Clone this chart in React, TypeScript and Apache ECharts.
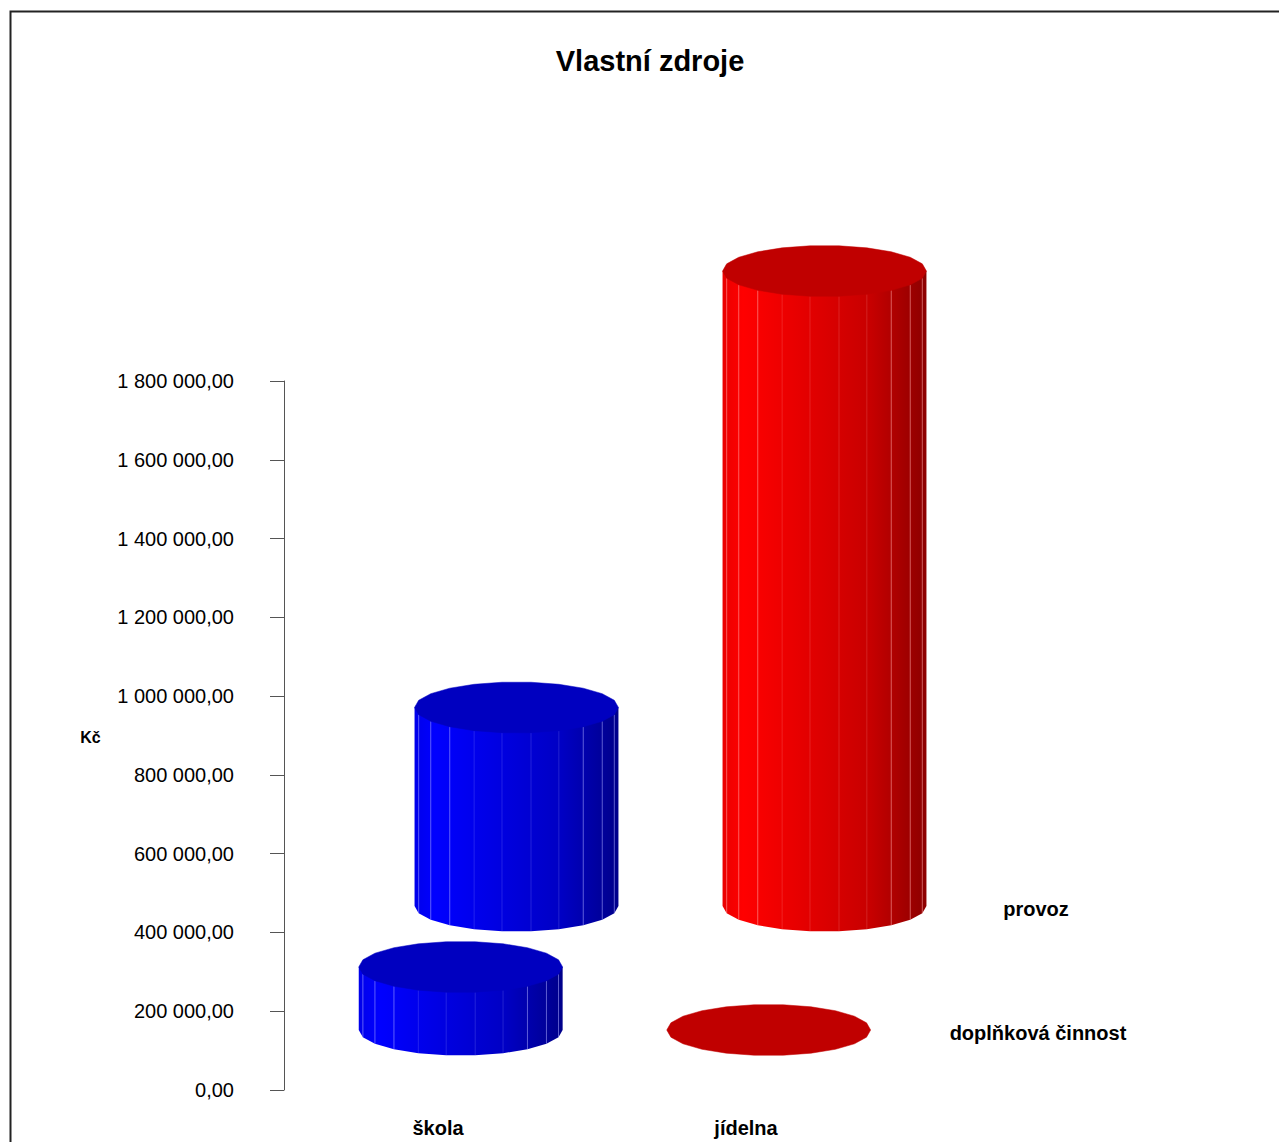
import React, { useEffect, useRef } from "react";
import * as echarts from "echarts";

// Chart data
const categories = ["škola", "jídelna"];
const seriesNames = ["provoz", "doplňková činnost"];
const provozValues = [504000, 1612000];
const doplnkovaValues = [160000, 0];
const yMin = 0;
const yMax = 1800000;
const yInterval = 200000;
const chartTitle = "Vlastní zdroje";
const axisUnit = "Kč";

const FONT = "'Liberation Sans', Arial, Helvetica, sans-serif";
const FACETS = 22;

// Depth rows of the 3D plot: back row (provoz) and front row (doplňková činnost)
const depthRows = [
  { dx: 78.5, dy: -184 },
  { dx: 22.7, dy: -60 },
];

const palettes = [
  {
    top: "#C00000",
    side: ["#EA0000", "#FF0000", "#C80000", "#8C0000"],
    line: "rgba(255,170,170,",
  },
  {
    top: "#0000C0",
    side: ["#0000EA", "#0000FF", "#0000C4", "#00008A"],
    line: "rgba(170,170,255,",
  },
];

const formatKc = (v: number) =>
  Math.round(v)
    .toString()
    .replace(/\B(?=(\d{3})+(?!\d))/g, " ") + ",00";

function makeCylinderRenderer(rowIndex: number, paletteFor: (cat: number) => any) {
  const depth = depthRows[rowIndex];
  return (params: any, api: any) => {
    const cat = api.value(0);
    const val = api.value(1);
    const base = api.coord([cat, 0]);
    const top = api.coord([cat, val]);
    const band = api.size([1, 0])[0];
    const rx = band * 0.331;
    const ry = 25.5;
    const cx = base[0] + depth.dx;
    const floorY = base[1] + depth.dy;
    const topY = top[1] + depth.dy;
    const pal = paletteFor(cat);

    const angles: number[] = [];
    for (let k = 0; k < FACETS; k++) angles.push((k * 2 * Math.PI) / FACETS);
    const topRing = angles.map((a) => [cx + rx * Math.cos(a), topY + ry * Math.sin(a)]);
    const frontAngles = angles.filter((a) => a <= Math.PI + 1e-9);
    const bottomFront = frontAngles.map((a) => [cx + rx * Math.cos(a), floorY + ry * Math.sin(a)]);

    const children: any[] = [];
    if (floorY - topY > 0.5) {
      children.push({
        type: "polygon",
        shape: { points: [[cx + rx, topY], ...bottomFront, [cx - rx, topY]] },
        style: {
          fill: {
            type: "linear",
            x: 0,
            y: 0,
            x2: 1,
            y2: 0,
            colorStops: [
              { offset: 0, color: pal.side[0] },
              { offset: 0.1, color: pal.side[1] },
              { offset: 0.72, color: pal.side[2] },
              { offset: 1, color: pal.side[3] },
            ],
          },
        },
      });
      // facet edges, fainter toward the middle of the visible face
      frontAngles.forEach((a) => {
        if (a < 1e-6 || a > Math.PI - 1e-6) return;
        const c = Math.abs(Math.cos(a));
        const alpha = c > 0.45 ? 0.55 : 0.2;
        const x = cx + rx * Math.cos(a);
        children.push({
          type: "line",
          shape: { x1: x, y1: topY + ry * Math.sin(a), x2: x, y2: floorY + ry * Math.sin(a) },
          style: { stroke: pal.line + alpha + ")", lineWidth: 1 },
        });
      });
    }
    children.push({
      type: "polygon",
      shape: { points: topRing },
      style: { fill: pal.top, stroke: pal.top, lineWidth: 0.5 },
    });
    return { type: "group", children, silent: true };
  };
}

export default function App() {
  const ref = useRef<HTMLDivElement>(null);

  useEffect(() => {
    if (!ref.current) return;
    const chart = echarts.init(ref.current, undefined, { renderer: "svg" });
    // škola is blue, jídelna is red
    const paletteFor = (cat: number) => (cat === 0 ? palettes[1] : palettes[0]);

    chart.setOption({
      animation: false,
      backgroundColor: "#ffffff",
      title: {
        text: chartTitle,
        left: 650,
        top: 46,
        textAlign: "center",
        padding: 0,
        textStyle: { fontFamily: FONT, fontSize: 29, fontWeight: "bold", color: "#000" },
      },
      grid: { left: 284, top: 381, width: 616, bottom: 52, containLabel: false },
      xAxis: {
        type: "category",
        data: categories,
        axisLine: { show: false },
        axisTick: { show: false },
        splitLine: { show: false },
        axisLabel: {
          margin: 28,
          fontFamily: FONT,
          fontSize: 20,
          fontWeight: "bold",
          color: "#000",
        },
      },
      yAxis: {
        type: "value",
        min: yMin,
        max: yMax,
        interval: yInterval,
        axisLine: { show: true, lineStyle: { color: "#555", width: 1 } },
        axisTick: { show: true, inside: false, length: 14, lineStyle: { color: "#555", width: 1 } },
        splitLine: { show: false },
        axisLabel: {
          margin: 50,
          fontFamily: FONT,
          fontSize: 20,
          color: "#000",
          padding: [4, 0, 0, 0],
          formatter: (v: number) => formatKc(v),
        },
      },
      graphic: [
        {
          type: "rect",
          silent: true,
          z: -10,
          shape: { x: 10.5, y: 11.5, width: 1400, height: 1400 },
          style: { fill: "none", stroke: "#222", lineWidth: 2 },
        },
        {
          type: "text",
          x: 90.5,
          y: 737,
          silent: true,
          style: {
            text: axisUnit,
            font: `bold 16px ${FONT}`,
            fill: "#000",
            align: "center",
            verticalAlign: "middle",
          },
        },
        {
          type: "text",
          x: 1036,
          y: 909,
          silent: true,
          style: {
            text: seriesNames[0],
            font: `bold 20px ${FONT}`,
            fill: "#000",
            align: "center",
            verticalAlign: "middle",
          },
        },
        {
          type: "text",
          x: 1038,
          y: 1033,
          silent: true,
          style: {
            text: seriesNames[1],
            font: `bold 20px ${FONT}`,
            fill: "#000",
            align: "center",
            verticalAlign: "middle",
          },
        },
      ],
      series: [
        {
          name: seriesNames[0],
          type: "custom",
          clip: false,
          z: 2,
          renderItem: makeCylinderRenderer(0, paletteFor),
          encode: { x: 0, y: 1 },
          data: provozValues.map((v, i) => [i, v]),
        },
        {
          name: seriesNames[1],
          type: "custom",
          clip: false,
          z: 3,
          renderItem: makeCylinderRenderer(1, paletteFor),
          encode: { x: 0, y: 1 },
          data: doplnkovaValues.map((v, i) => [i, v]),
        },
      ],
    });

    return () => chart.dispose();
  }, []);

  return (
    <div
      ref={ref}
      style={{ position: "absolute", left: 0, top: 0, width: 1279, height: 1142 }}
    />
  );
}
